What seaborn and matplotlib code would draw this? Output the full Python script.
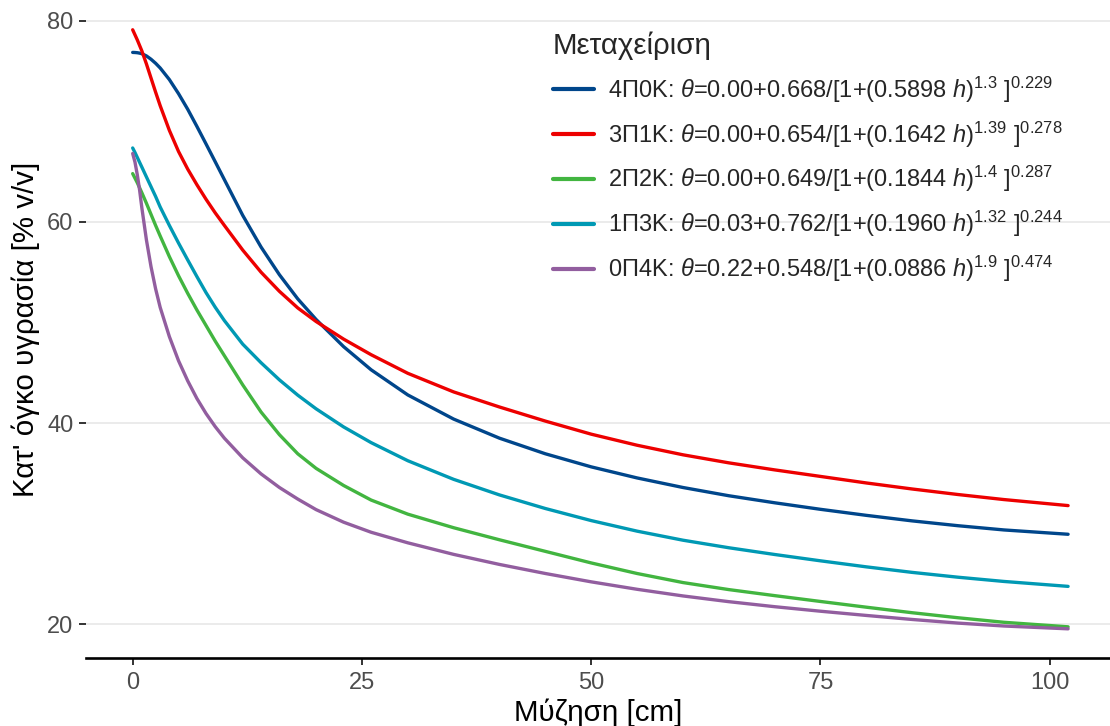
import numpy as np
import pandas as pd
import matplotlib
matplotlib.use("Agg")
import matplotlib.pyplot as plt
from matplotlib.lines import Line2D
import seaborn as sns

# Suction (cm) at which the retention curves are tabulated
suction = [0, 0.25, 0.5, 0.75, 1, 1.5, 2, 2.5, 3, 4, 5, 6, 7, 8, 9, 10,
           12, 14, 16, 18, 20, 23, 26, 30, 35, 40, 45, 50, 55, 60, 65, 70,
           75, 80, 85, 90, 95, 102]

# Volumetric moisture content (% v/v) for each treatment
theta_4P0K = [76.85, 76.84, 76.82, 76.78, 76.72, 76.5, 76.17, 75.77, 75.3, 74.15,
              72.75, 71.2, 69.5, 67.75, 65.98, 64.2, 60.65, 57.5, 54.75, 52.35,
              50.3, 47.6, 45.3, 42.8, 40.4, 38.5, 36.95, 35.65, 34.55, 33.6,
              32.78, 32.08, 31.43, 30.83, 30.28, 29.8, 29.38, 28.95]
theta_3P1K = [79.1, 78.6, 78.1, 77.55, 77.0, 75.7, 74.3, 72.9, 71.55, 69.1,
              67.0, 65.25, 63.7, 62.25, 60.9, 59.65, 57.2, 55.0, 53.1, 51.45,
              50.1, 48.35, 46.8, 44.95, 43.1, 41.6, 40.2, 38.9, 37.8, 36.85,
              36.05, 35.35, 34.7, 34.05, 33.45, 32.9, 32.4, 31.8]
theta_2P2K = [64.8, 64.35, 63.9, 63.4, 62.9, 61.85, 60.75, 59.65, 58.6, 56.55,
              54.65, 52.9, 51.25, 49.7, 48.15, 46.7, 43.8, 41.1, 38.85, 36.95,
              35.5, 33.8, 32.35, 30.95, 29.6, 28.4, 27.25, 26.1, 25.05, 24.15,
              23.45, 22.85, 22.27, 21.7, 21.15, 20.65, 20.2, 19.75]
theta_1P3K = [67.35, 66.9, 66.42, 65.93, 65.45, 64.47, 63.5, 62.53, 61.48, 59.65,
              57.9, 56.22, 54.57, 52.97, 51.52, 50.19, 47.85, 46.0, 44.3, 42.78,
              41.42, 39.62, 38.06, 36.26, 34.41, 32.86, 31.51, 30.31, 29.26, 28.36,
              27.61, 26.94, 26.31, 25.71, 25.16, 24.68, 24.26, 23.77]
theta_0P4K = [66.8, 65.95, 64.7, 63.2, 61.4, 58.2, 55.55, 53.35, 51.5, 48.6,
              46.2, 44.2, 42.45, 40.95, 39.65, 38.5, 36.55, 34.95, 33.6, 32.45,
              31.4, 30.15, 29.15, 28.1, 26.95, 25.95, 25.05, 24.22, 23.48, 22.82,
              22.25, 21.75, 21.3, 20.88, 20.48, 20.12, 19.83, 19.55]

treatments = ["4Π0K", "3Π1K", "2Π2K", "1Π3K", "0Π4K"]
series = [theta_4P0K, theta_3P1K, theta_2P2K, theta_1P3K, theta_0P4K]
colors = ["#00468B", "#ED0000", "#42B540", "#0099B4", "#925E9F"]

# Fitted van Genuchten expressions shown in the legend
fit_labels = [
    r"$\text{4Π0K: }\theta\text{=0.00+0.668/[1+(0.5898 }h\text{)}^{1.3}\text{ ]}^{0.229}$",
    r"$\text{3Π1K: }\theta\text{=0.00+0.654/[1+(0.1642 }h\text{)}^{1.39}\text{ ]}^{0.278}$",
    r"$\text{2Π2K: }\theta\text{=0.00+0.649/[1+(0.1844 }h\text{)}^{1.4}\text{ ]}^{0.287}$",
    r"$\text{1Π3K: }\theta\text{=0.03+0.762/[1+(0.1960 }h\text{)}^{1.32}\text{ ]}^{0.244}$",
    r"$\text{0Π4K: }\theta\text{=0.22+0.548/[1+(0.0886 }h\text{)}^{1.9}\text{ ]}^{0.474}$",
]

df = pd.concat(
    [pd.DataFrame({"h": suction, "theta": vals, "trt": name})
     for name, vals in zip(treatments, series)],
    ignore_index=True,
)

sns.set_theme(style="white")
plt.rcParams["font.family"] = ["Liberation Sans", "DejaVu Sans"]
plt.rcParams["mathtext.fontset"] = "custom"
plt.rcParams["mathtext.rm"] = "Liberation Sans"
plt.rcParams["mathtext.it"] = "Liberation Sans:italic"
plt.rcParams["mathtext.bf"] = "Liberation Sans:bold"

W, H = 1110, 726
fig = plt.figure(figsize=(W / 100, H / 100), dpi=100)
left_px, bottom_px = 86, 658.3
ax = fig.add_axes([left_px / W, 1 - bottom_px / H, 1 - left_px / W, bottom_px / H])

sns.lineplot(data=df, x="h", y="theta", hue="trt", hue_order=treatments,
             palette=colors, linewidth=2.4, estimator=None, sort=False,
             legend=False, ax=ax)

ax.set_xlim(-5.09, 106.57)
ax.set_ylim(16.62, 82.06)
ax.set_xticks([0, 25, 50, 75, 100])
ax.set_yticks([20, 40, 60, 80])

ax.grid(False)
ax.yaxis.grid(True, color="#EBEBEB", linewidth=1.4)
ax.set_axisbelow(True)
for side in ("left", "top", "right"):
    ax.spines[side].set_visible(False)
ax.spines["bottom"].set_color("black")
ax.spines["bottom"].set_linewidth(1.9)

ax.tick_params(axis="both", length=5, width=1.4, color="#333333",
               labelsize=17, labelcolor="#4D4D4D", pad=4)
ax.tick_params(axis="x", pad=5, bottom=True)
ax.tick_params(axis="y", left=True)

ax.set_xlabel("Μύζηση [cm]", fontsize=21.25, color="black", labelpad=3)
ax.set_ylabel("Κατ' όγκο υγρασία [% v/v]", fontsize=21.25, color="black", labelpad=5)

handles = [Line2D([0], [0], color=c, linewidth=3) for c in colors]
leg = fig.legend(handles, fit_labels, title="Μεταχείριση",
                 loc="upper left", bbox_to_anchor=(543.5 / W, 1 - 22 / H),
                 frameon=False, fontsize=17, title_fontsize=21.25,
                 handlelength=1.75, handletextpad=0.6, labelspacing=0.62,
                 alignment="left", borderaxespad=0)

fig.savefig("out.png", dpi=100)
